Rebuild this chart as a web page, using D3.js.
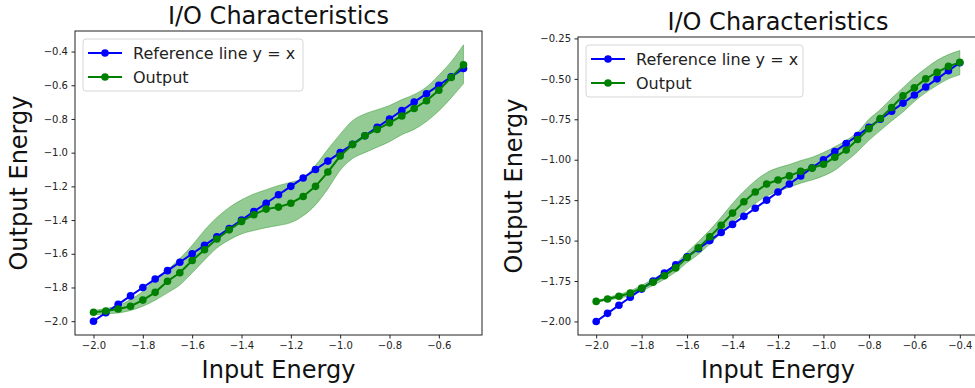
<!DOCTYPE html>
<html>
<head>
<meta charset="utf-8">
<script src="https://cdn.jsdelivr.net/npm/d3@7"></script>
<style>
body{margin:0;background:#fff;}
svg{display:block;font-family:"DejaVu Sans",sans-serif;}
</style>
</head>
<body>
<svg id="chart" width="975" height="388"></svg>
<script>
// left panel
var inputLeft = [-2.00,-1.95,-1.90,-1.85,-1.80,-1.75,-1.70,-1.65,-1.60,-1.55,-1.50,-1.45,-1.40,-1.35,-1.30,-1.25,
  -1.20,-1.15,-1.10,-1.05,-1.00,-0.95,-0.90,-0.85,-0.80,-0.75,-0.70,-0.65,-0.60,-0.55,-0.50];
var outputLeft = [-1.947,-1.940,-1.928,-1.911,-1.875,-1.829,-1.763,-1.713,-1.640,-1.576,-1.512,-1.458,-1.408,-1.368,-1.335,-1.323,
  -1.300,-1.260,-1.200,-1.115,-1.020,-0.952,-0.900,-0.862,-0.823,-0.782,-0.738,-0.692,-0.630,-0.554,-0.479];
var upperLeft = [-1.937,-1.925,-1.907,-1.872,-1.822,-1.753,-1.695,-1.628,-1.550,-1.460,-1.385,-1.325,-1.280,-1.245,-1.220,-1.195,
  -1.175,-1.150,-1.075,-0.980,-0.890,-0.810,-0.770,-0.745,-0.720,-0.685,-0.655,-0.610,-0.540,-0.460,-0.360];
var lowerLeft = [-1.962,-1.957,-1.951,-1.937,-1.911,-1.876,-1.832,-1.785,-1.713,-1.637,-1.566,-1.518,-1.482,-1.462,-1.445,-1.432,
  -1.415,-1.375,-1.310,-1.215,-1.105,-1.035,-1.000,-0.968,-0.935,-0.893,-0.862,-0.815,-0.752,-0.675,-0.590];
var xTicksLeft = [-2.0,-1.8,-1.6,-1.4,-1.2,-1.0,-0.8,-0.6];
var yTicksLeft = [-2.0,-1.8,-1.6,-1.4,-1.2,-1.0,-0.8,-0.6,-0.4];

// right panel
var inputRight = [-2.00,-1.95,-1.90,-1.85,-1.80,-1.75,-1.70,-1.65,-1.60,-1.55,-1.50,-1.45,-1.40,-1.35,-1.30,-1.25,
  -1.20,-1.15,-1.10,-1.05,-1.00,-0.95,-0.90,-0.85,-0.80,-0.75,-0.70,-0.65,-0.60,-0.55,-0.50,-0.45,-0.40];
var outputRight = [-1.876,-1.861,-1.844,-1.825,-1.794,-1.758,-1.717,-1.669,-1.605,-1.545,-1.477,-1.405,-1.330,-1.260,-1.200,-1.150,
  -1.125,-1.100,-1.072,-1.052,-1.028,-0.985,-0.940,-0.875,-0.808,-0.745,-0.677,-0.605,-0.555,-0.500,-0.460,-0.423,-0.398];
var upperRight = [-1.871,-1.853,-1.832,-1.810,-1.777,-1.738,-1.695,-1.642,-1.572,-1.505,-1.435,-1.355,-1.270,-1.195,-1.130,-1.080,
  -1.050,-1.030,-1.005,-0.985,-0.955,-0.920,-0.880,-0.830,-0.750,-0.690,-0.620,-0.555,-0.490,-0.435,-0.385,-0.350,-0.325];
var lowerRight = [-1.881,-1.869,-1.856,-1.840,-1.811,-1.778,-1.739,-1.694,-1.636,-1.585,-1.520,-1.455,-1.390,-1.325,-1.270,-1.225,
  -1.195,-1.170,-1.145,-1.125,-1.100,-1.065,-1.010,-0.950,-0.880,-0.820,-0.760,-0.705,-0.640,-0.585,-0.540,-0.500,-0.475];
var xTicksRight = [-2.0,-1.8,-1.6,-1.4,-1.2,-1.0,-0.8,-0.6,-0.4];
var yTicksRight = [-2.00,-1.75,-1.50,-1.25,-1.00,-0.75,-0.50,-0.25];

var seriesNames = ['Reference line y = x','Output'];
var titleText = 'I/O Characteristics';
var xLabelText = 'Input Energy';
var yLabelText = 'Output Energy';

var svg = d3.select('#chart');

function drawPanel(p){
  var g = svg.append('g');
  // matplotlib style 5% margins
  var xExt = d3.extent(p.x);
  var yExt = d3.extent(p.x.concat(p.out, p.upper, p.lower));
  var xPad = (xExt[1]-xExt[0])*0.05, yPad = (yExt[1]-yExt[0])*0.05;
  var x = d3.scaleLinear().domain([xExt[0]-xPad, xExt[1]+xPad]).range([p.left, p.right]);
  var y = d3.scaleLinear().domain([yExt[0]-yPad, yExt[1]+yPad]).range([p.bottom, p.top]);

  var area = d3.area()
    .curve(d3.curveMonotoneX)
    .x(function(d,i){return x(p.x[i]);})
    .y0(function(d,i){return y(p.lower[i]);})
    .y1(function(d,i){return y(p.upper[i]);});
  g.append('path')
    .datum(p.x)
    .attr('d', area)
    .attr('fill','#008000')
    .attr('fill-opacity',0.42)
    .attr('stroke','#008000')
    .attr('stroke-opacity',0.45)
    .attr('stroke-width',0.8);

  var series = [
    {name:seriesNames[0], color:'#0000ff', pts:p.x.map(function(v){return [v,v];})},
    {name:seriesNames[1], color:'#008000', pts:p.x.map(function(v,i){return [v,p.out[i]];})}
  ];
  var line = d3.line().x(function(d){return x(d[0]);}).y(function(d){return y(d[1]);});
  series.forEach(function(s){
    g.append('path')
      .datum(s.pts)
      .attr('d', line)
      .attr('fill','none')
      .attr('stroke', s.color)
      .attr('stroke-width',2);
    g.selectAll(null)
      .data(s.pts)
      .enter()
      .append('circle')
      .attr('cx',function(d){return x(d[0]);})
      .attr('cy',function(d){return y(d[1]);})
      .attr('r',3.8)
      .attr('fill', s.color);
  });

  // axes
  var xAxis = g.append('g')
    .attr('transform','translate(0,'+p.bottom+')')
    .call(d3.axisBottom(x).tickValues(p.xTicks).tickFormat(d3.format('.1f')).tickSize(3.5).tickPadding(3.5).tickSizeOuter(0));
  var yAxis = g.append('g')
    .attr('transform','translate('+p.left+',0)')
    .call(d3.axisLeft(y).tickValues(p.yTicks).tickFormat(d3.format(p.yFormat)).tickSize(3.5).tickPadding(3.5).tickSizeOuter(0));
  [xAxis,yAxis].forEach(function(a){
    a.select('.domain').remove();
    a.selectAll('text').attr('font-size',10).attr('fill','#222').attr('font-family','"DejaVu Sans",sans-serif');
    a.selectAll('line').attr('stroke','#222');
  });

  g.append('rect')
    .attr('x',p.left).attr('y',p.top)
    .attr('width',p.right-p.left).attr('height',p.bottom-p.top)
    .attr('fill','none').attr('stroke','#222').attr('stroke-width',1);

  // labels
  g.append('text')
    .text(titleText)
    .attr('x',(p.left+p.right)/2).attr('y',p.top-7)
    .attr('text-anchor','middle').attr('font-size',24).attr('fill','#111');
  g.append('text')
    .text(xLabelText)
    .attr('x',(p.left+p.right)/2).attr('y',p.bottom+43)
    .attr('text-anchor','middle').attr('font-size',24).attr('fill','#111');
  g.append('text')
    .text(yLabelText)
    .attr('transform','translate('+p.yLabelX+','+((p.top+p.bottom)/2)+') rotate(-90)')
    .attr('text-anchor','middle').attr('font-size',24).attr('fill','#111');

  // legend
  var lg = g.append('g').attr('transform','translate('+(p.left+8)+','+(p.top+8)+')');
  lg.append('rect')
    .attr('width',p.legendW).attr('height',52).attr('rx',3)
    .attr('fill','#fff').attr('fill-opacity',0.8)
    .attr('stroke','#d6d6d6').attr('stroke-width',1);
  var item = lg.selectAll('.item')
    .data(series)
    .enter()
    .append('g')
    .attr('class','item')
    .attr('transform',function(d,i){return 'translate(0,'+(14+i*24)+')';});
  item.append('line')
    .attr('x1',5).attr('x2',39)
    .attr('stroke',function(d){return d.color;}).attr('stroke-width',2);
  item.append('circle')
    .attr('cx',22).attr('r',3.8)
    .attr('fill',function(d){return d.color;});
  item.append('text')
    .text(function(d){return d.name;})
    .attr('x',50).attr('dy','0.35em')
    .attr('font-size',16).attr('fill','#222');
}

drawPanel({x:inputLeft, out:outputLeft, upper:upperLeft, lower:lowerLeft,
  xTicks:xTicksLeft, yTicks:yTicksLeft, yFormat:'.1f',
  left:75, right:482, top:31, bottom:335, yLabelX:27, legendW:220});
drawPanel({x:inputRight, out:outputRight, upper:upperRight, lower:lowerRight,
  xTicks:xTicksRight, yTicks:yTicksRight, yFormat:'.2f',
  left:578, right:978, top:37, bottom:335, yLabelX:522, legendW:217});
</script>
</body>
</html>
